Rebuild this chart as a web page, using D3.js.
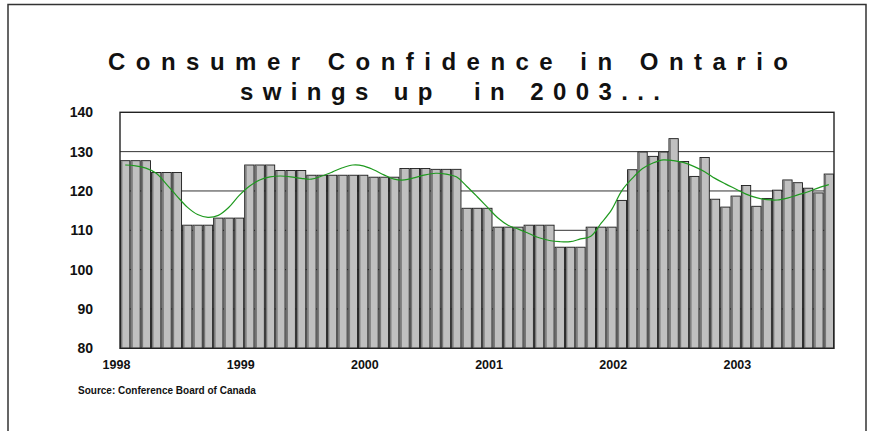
<!DOCTYPE html>
<html>
<head>
<meta charset="utf-8">
<script src="https://cdn.jsdelivr.net/npm/d3@7/dist/d3.min.js"></script>
<style>
  html, body { margin: 0; padding: 0; background: #fff; }
  svg { display: block; font-family: "Liberation Sans", Arial, sans-serif; }
</style>
</head>
<body>
<svg id="chart" width="875" height="431"></svg>
<script>
// Monthly index values, Jan 1998 – Sep 2003
const months = d3.range(69).map(i => new Date(1998, i, 1));
const index1998 = [127.7,127.7,127.7,124.7,124.7,124.7,111.3,111.3,111.3,113.1,113.1,113.1];
const index1999 = [126.6,126.6,126.6,125.2,125.2,125.2,124.0,124.0,124.0,124.0,124.0,124.0];
const index2000 = [123.5,123.5,123.5,125.7,125.7,125.7,125.5,125.5,125.5,115.6,115.6,115.6];
const index2001 = [110.8,110.8,110.8,111.3,111.3,111.3,105.7,105.7,105.7,110.8,110.8,110.8];
const index2002 = [117.6,125.4,129.9,128.8,129.9,133.3,127.5,123.7,128.5,117.9,115.9,118.7];
const index2003 = [121.4,116.1,118.1,120.2,122.8,122.1,120.7,119.5,124.3];
const values = [].concat(index1998, index1999, index2000, index2001, index2002, index2003);

// Smoothed trend line
const trend = [126.6,126.4,125.8,124.5,121.7,118.7,115.9,114.0,113.3,113.8,115.8,118.8,
               121.2,122.8,123.6,123.8,123.6,123.2,123.0,123.8,124.8,125.9,126.6,126.4,
               125.4,124.1,123.0,122.8,123.4,124.1,124.5,124.3,123.6,121.2,118.6,115.9,
               113.2,111.3,110.3,109.2,108.1,107.4,107.1,107.1,107.8,108.5,111.8,115.2,
               120.1,123.2,125.7,127.1,127.9,127.7,127.2,126.2,124.9,123.2,121.8,120.5,
               119.2,118.3,117.8,117.7,118.2,119.0,119.8,120.8,121.6];

const yTicks = [80, 90, 100, 110, 120, 130, 140];
const yearLabels = ["1998", "1999", "2000", "2001", "2002", "2003"];

const titleLines = ["Consumer Confidence in Ontario", "swings up  in 2003..."];
const sourceText = "Source: Conference Board of Canada";

const svg = d3.select("#chart");
const plot = { left: 120, right: 834, top: 112.3, bottom: 348.3 };

// outer frame
svg.append("path")
  .attr("d", "M8,440 L8,4.5 L866,4.5 L866,440")
  .attr("fill", "none").attr("stroke", "#333").attr("stroke-width", 1.5);

const x = d3.scaleBand()
  .domain(d3.range(values.length))
  .range([plot.left, plot.right])
  .paddingInner(0.1)
  .paddingOuter(0.05);

const y = d3.scaleLinear().domain([80, 140]).range([plot.bottom, plot.top]);

// horizontal grid lines
svg.append("g").selectAll("line")
  .data(yTicks.filter(t => t > 80 && t < 140))
  .join("line")
  .attr("x1", plot.left).attr("x2", plot.right)
  .attr("y1", d => y(d)).attr("y2", d => y(d))
  .attr("stroke", "#333").attr("stroke-width", 1);

// bars
const bars = svg.append("g").selectAll("g")
  .data(values)
  .join("g");

bars.append("rect")
  .attr("x", (d, i) => x(i))
  .attr("y", d => y(d))
  .attr("width", x.bandwidth())
  .attr("height", d => plot.bottom - y(d))
  .attr("fill", "#c0c0c0")
  .attr("stroke", "#1a1a1a")
  .attr("stroke-width", 0.9);

bars.append("rect")
  .attr("x", (d, i) => x(i) + 0.5)
  .attr("y", d => y(d) + 0.5)
  .attr("width", 1.4)
  .attr("height", d => plot.bottom - y(d) - 1)
  .attr("fill", "#777");

// trend line
const line = d3.line()
  .x((d, i) => x(i) + x.bandwidth() / 2)
  .y(d => y(d))
  .curve(d3.curveCatmullRom);

svg.append("path")
  .datum(trend)
  .attr("d", line)
  .attr("fill", "none")
  .attr("stroke", "#1f9a1f")
  .attr("stroke-width", 1.2);

// plot frame
svg.append("rect")
  .attr("x", plot.left).attr("y", plot.top)
  .attr("width", plot.right - plot.left).attr("height", plot.bottom - plot.top)
  .attr("fill", "none").attr("stroke", "#222").attr("stroke-width", 1.4);

// y axis labels
svg.append("g").selectAll("text")
  .data(yTicks)
  .join("text")
  .attr("x", 93)
  .attr("y", d => y(d))
  .attr("dy", "0.36em")
  .attr("text-anchor", "end")
  .attr("font-size", 14)
  .attr("font-weight", "bold")
  .attr("fill", "#111")
  .text(d => d);

// year labels at January boundaries
svg.append("g").selectAll("text")
  .data(yearLabels)
  .join("text")
  .attr("x", (d, k) => x(k * 12) - 4)
  .attr("y", 369)
  .attr("text-anchor", "middle")
  .attr("font-size", 12.5)
  .attr("font-weight", "bold")
  .attr("fill", "#111")
  .text(d => d);

// title
svg.append("text")
  .attr("x", 108).attr("y", 70)
  .attr("font-size", 24).attr("font-weight", "bold").attr("fill", "#111")
  .attr("textLength", 680).attr("lengthAdjust", "spacing")
  .style("white-space", "pre")
  .text(titleLines[0]);

svg.append("text")
  .attr("x", 240).attr("y", 100)
  .attr("font-size", 24).attr("font-weight", "bold").attr("fill", "#111")
  .attr("textLength", 420).attr("lengthAdjust", "spacing")
  .style("white-space", "pre")
  .text(titleLines[1]);

// source note
svg.append("text")
  .attr("x", 78).attr("y", 393.5)
  .attr("font-size", 10).attr("font-weight", "bold").attr("fill", "#111")
  .text(sourceText);
</script>
</body>
</html>
